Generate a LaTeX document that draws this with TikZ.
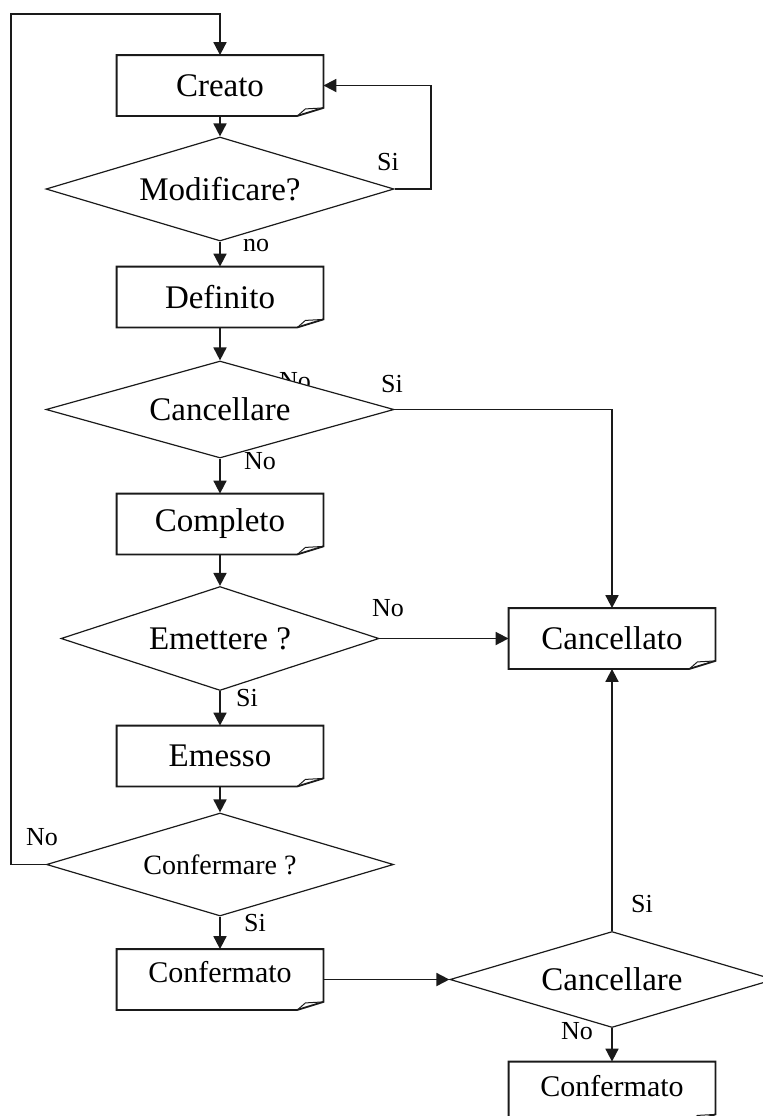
\documentclass[tikz,border=0pt]{standalone}
\usepackage{fontspec}
\setmainfont{Liberation Serif}
\usetikzlibrary{arrows.meta, shapes.geometric}
\definecolor{cLine}{HTML}{1A1A1A}

\begin{document}
\begin{tikzpicture}[x=0.5pt, y=-0.5pt,
    >={Triangle[length=6.5pt, width=6.5pt]},
    state/.style={
        rectangle, minimum width=103pt, minimum height=30pt,
        inner sep=0pt, font=\fontsize{16.5}{18}\selectfont
    },
    decision/.style={
        diamond, draw=cLine, fill=white, line width=0.6pt,
        aspect=3.4, inner sep=0pt,
        font=\fontsize{16.5}{18}\selectfont
    },
    frame/.style={draw=cLine, line width=0.9pt},
    arr/.style={->, draw=cLine, line width=0.9pt},
    tag/.style={font=\fontsize{13}{14}\selectfont, inner sep=0pt},
]
\useasboundingbox (0,0) rectangle (763,1116);
\clip (0,0) rectangle (763,1116);

% Left column - states and decisions
\node[state] (creato) at (220,85.5) {Creato};
\node[decision, minimum width=174pt, minimum height=52pt] (modificare) at (220,189) {Modificare?};
\node[state] (definito) at (220,297) {Definito};
% label sits behind the diamond, which covers its lower half
\node[tag] (tagNoHidden) at (295,381) {No};
\node[decision, minimum width=174pt, minimum height=48.5pt] (cancellare) at (220,409.5) {Cancellare};
\node[state] (completo) at (220,524) {Completo};
\node[decision, minimum width=159pt, minimum height=52pt] (emettere) at (220,638.5) {Emettere ?};
\node[state] (emesso) at (220,756) {Emesso};
\node[decision, minimum width=173.5pt, minimum height=51.5pt,
      font=\fontsize{14}{15}\selectfont] (confermare) at (220,864.5) {Confermare ?};
\node[state, text depth=8pt, font=\fontsize{15}{16}\selectfont] (confermato) at (220,979.5) {Confermato};

% Right column
\node[state] (cancellato) at (612,638.5) {Cancellato};
\node[decision, minimum width=162pt, minimum height=48pt] (cancellareB) at (612,979.5) {Cancellare};
\node[state, text depth=6pt, font=\fontsize{15}{16}\selectfont] (confermatoB) at (612,1092) {Confermato};

% Document outlines with folded corner
\foreach \n in {creato,definito,completo,emesso,confermato,cancellato,confermatoB} {
    \draw[frame] (\n.north west) -- (\n.north east) -- ([yshift=4pt]\n.south east)
        -- ([xshift=-13pt]\n.south east) -- (\n.south west) -- cycle;
    \draw[frame, line width=0.5pt] ([xshift=-13pt]\n.south east)
        -- ([xshift=-9pt,yshift=3.5pt]\n.south east) -- ([yshift=4pt]\n.south east);
}

% Arrows - main flow
\draw[arr] (creato) -- (modificare);
\draw[arr] (modificare) -- (definito);
\draw[arr] (definito) -- (cancellare);
\draw[arr] (cancellare) -- (completo);
\draw[arr] (completo) -- (emettere);
\draw[arr] (emettere) -- (emesso);
\draw[arr] (emesso) -- (confermare);
\draw[arr] (confermare) -- (confermato);

% Arrows - loops back
\coordinate (loopTop) at (11,14);
\draw[arr] (confermare.west) -| (loopTop) -| (creato.north);
\draw[arr] (modificare.east) -- ++(36,0) |- (creato.east);

% Arrows - towards the right column
\draw[arr] (cancellare.east) -| (cancellato.north);
\draw[arr] (emettere.east) -- (cancellato.west);
\draw[arr] (confermato.east) -- (cancellareB.west);
\draw[arr] (cancellareB.north) -- (cancellato.south);
\draw[arr] (cancellareB.south) -- (confermatoB.north);

% Branch labels
\node[tag] (tagSiMod)   at (388,162)  {Si};
\node[tag] (tagNoMod)   at (256,245)  {no};
\node[tag] (tagSiCanc)  at (392,384)  {Si};
\node[tag] (tagNoCanc)  at (260,461)  {No};
\node[tag] (tagNoEm)    at (388,608)  {No};
\node[tag] (tagSiEm)    at (247,698)  {Si};
\node[tag] (tagNoConf)  at (42,837)   {No};
\node[tag] (tagSiConf)  at (255,923)  {Si};
\node[tag] (tagSiCancB) at (642,904)  {Si};
\node[tag] (tagNoCancB) at (577,1031) {No};

\end{tikzpicture}
\end{document}
